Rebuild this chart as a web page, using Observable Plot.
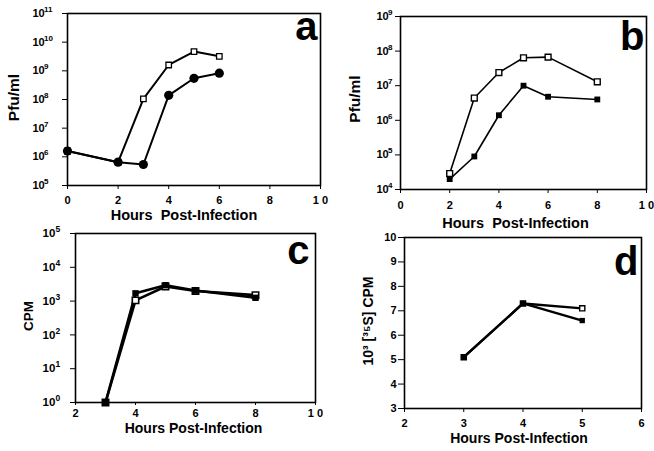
<!DOCTYPE html>
<html><head><meta charset="utf-8">
<script src="https://cdn.jsdelivr.net/npm/d3@7"></script>
<script src="https://cdn.jsdelivr.net/npm/@observablehq/plot@0.6"></script>
<style>
html,body{margin:0;padding:0;background:#fff;}
#root{position:relative;width:654px;height:451px;overflow:hidden;background:#fff;}
.panel{position:absolute;}
</style></head><body><div id="root"></div>
<script>
// ---------- Data ----------
// Panel a
const hoursA = [0, 2, 3, 4, 5, 6];
const aOpen = [1.6e6, 0.65e6, 1.05e8, 1.6e9, 4.7e9, 3.2e9];
const aFilled = [1.6e6, 0.65e6, 0.54e6, 1.4e8, 5.5e8, 8.3e8];
const aXTicks = [0, 2, 4, 6, 8, 10];
const aExp = [5, 6, 7, 8, 9, 10, 11];
// Panel b
const hoursB = [2, 3, 4, 5, 6, 8];
const bOpen = [2.9e4, 4.4e6, 2.4e7, 6.4e7, 6.7e7, 1.3e7];
const bFilled = [2.0e4, 0.9e5, 1.4e6, 1.0e7, 4.8e6, 4.0e6];
const bXTicks = [0, 2, 4, 6, 8, 10];
const bExp = [4, 5, 6, 7, 8, 9];
// Panel c
const hoursC = [3, 4, 5, 6, 8];
const cOpen = [1, 1.05e3, 2.7e3, 2.0e3, 1.5e3];
const cFilled = [1, 1.7e3, 2.95e3, 2.05e3, 1.25e3];
const cXTicks = [2, 4, 6, 8, 10];
const cExp = [0, 1, 2, 3, 4, 5];
// Panel d
const hoursD = [3, 4, 5];
const dOpen = [5.1, 7.3, 7.1];
const dFilled = [5.1, 7.3, 6.6];
const dXTicks = [2, 3, 4, 5, 6];
const dYTicks = [3, 4, 5, 6, 7, 8, 9, 10];

const xTitle1 = "Hours  Post-Infection";
const xTitle2 = "Hours Post-Infection";
const yTitlePfu = "Pfu/ml";
const yTitleCPM = "CPM";
const yTitleD = "10³ [³⁵S] CPM";

// ---------- Helpers ----------
const FONT = '"Liberation Sans", Arial, Helvetica, sans-serif';
const series = (xs, ys) => xs.map((x, i) => ({x, y: ys[i]}));
const fmtX = d => d === 10 ? "1 0" : String(d);
const fmtInt = d => String(d);
const baseStyle = {fontFamily: FONT, fontWeight: "bold", fontSize: "10.5px", overflow: "visible", background: "transparent", maxWidth: "none"};

function supTicks(exps, dx10, dxExp, fs, fsExp, raise) {
  return [
    Plot.text(exps, {y: e => 10 ** e, frameAnchor: "left", dx: dx10, text: () => "10", textAnchor: "start", fontSize: fs}),
    Plot.text(exps, {y: e => 10 ** e, frameAnchor: "left", dx: dxExp, dy: -raise, text: e => String(e), textAnchor: "start", fontSize: fsExp})
  ];
}

function place(node, left, top) {
  const div = document.createElement("div");
  div.className = "panel";
  div.style.left = left + "px";
  div.style.top = top + "px";
  div.appendChild(node);
  document.getElementById("root").appendChild(div);
}

// ---------- Panel a ----------
place(Plot.plot({
  width: 330, height: 230,
  marginLeft: 67, marginTop: 13, marginRight: 10, marginBottom: 45,
  style: baseStyle,
  x: {domain: [0, 10], label: null},
  y: {type: "log", domain: [1e5, 1e11], label: null},
  marks: [
    Plot.frame({stroke: "black", strokeWidth: 1.6}),
    Plot.axisX({ticks: aXTicks, tickFormat: fmtX, tickSize: 4, tickPadding: 7, label: null, fontSize: 11}),
    Plot.axisY({ticks: aExp.map(e => 10 ** e), tickFormat: () => "", tickSize: 5, label: null}),
    ...supTicks(aExp, -35, -23.5, 11, 8, 4),
    Plot.line(series(hoursA, aOpen), {x: "x", y: "y", stroke: "black", strokeWidth: 2}),
    Plot.line(series(hoursA, aFilled), {x: "x", y: "y", stroke: "black", strokeWidth: 2}),
    Plot.dot(series(hoursA, aOpen), {x: "x", y: "y", symbol: "square", r: 3.1, fill: "white", stroke: "black", strokeWidth: 1.3}),
    Plot.dot(series(hoursA, aFilled), {x: "x", y: "y", r: 4.6, fill: "black", stroke: "none"}),
    Plot.text([xTitle1], {frameAnchor: "bottom", dx: -10, dy: 34, fontSize: 14.5}),
    Plot.text([yTitlePfu], {frameAnchor: "left", textAnchor: "middle", dx: -53, dy: -2, rotate: -90, fontSize: 15.5}),
    Plot.text(["a"], {frameAnchor: "top-right", dx: -3, dy: 26, textAnchor: "end", lineAnchor: "bottom", fontSize: 40})
  ]
}), 0, 0);

// ---------- Panel b ----------
place(Plot.plot({
  width: 324, height: 230,
  marginLeft: 70, marginTop: 16, marginRight: 8, marginBottom: 41,
  style: baseStyle,
  x: {domain: [0, 10], label: null},
  y: {type: "log", domain: [1e4, 1e9], label: null},
  marks: [
    Plot.frame({stroke: "black", strokeWidth: 1.6}),
    Plot.axisX({ticks: bXTicks, tickFormat: fmtX, tickSize: 4, tickPadding: 8, label: null, fontSize: 11}),
    Plot.axisY({ticks: bExp.map(e => 10 ** e), tickFormat: () => "", tickSize: 5, label: null}),
    ...supTicks(bExp, -24, -12.5, 11, 8, 4),
    Plot.line(series(hoursB, bOpen), {x: "x", y: "y", stroke: "black", strokeWidth: 1.6}),
    Plot.line(series(hoursB, bFilled), {x: "x", y: "y", stroke: "black", strokeWidth: 1.6}),
    Plot.dot(series(hoursB, bOpen), {x: "x", y: "y", symbol: "square", r: 3.3, fill: "white", stroke: "black", strokeWidth: 1.4}),
    Plot.dot(series(hoursB, bFilled), {x: "x", y: "y", symbol: "square", r: 3.3, fill: "black", stroke: "none"}),
    Plot.text([xTitle1], {frameAnchor: "bottom", dx: -8, dy: 38, fontSize: 14.5}),
    Plot.text([yTitlePfu], {frameAnchor: "left", textAnchor: "middle", dx: -45, dy: -4, rotate: -90, fontSize: 15.5}),
    Plot.text(["b"], {frameAnchor: "top-right", dx: -2, dy: 33, textAnchor: "end", lineAnchor: "bottom", fontSize: 40})
  ]
}), 330, 0);

// ---------- Panel c ----------
place(Plot.plot({
  width: 330, height: 221,
  marginLeft: 75, marginTop: 3, marginRight: 15, marginBottom: 49,
  style: baseStyle,
  x: {domain: [2, 10], label: null},
  y: {type: "log", domain: [1, 1e5], label: null},
  marks: [
    Plot.frame({stroke: "black", strokeWidth: 1.6}),
    Plot.axisX({ticks: cXTicks, tickFormat: fmtX, tickSize: 3, tickPadding: 4, label: null, fontSize: 11}),
    Plot.axisY({ticks: cExp.map(e => 10 ** e), tickFormat: () => "", tickSize: 5, label: null}),
    ...supTicks(cExp, -33, -20, 11.5, 8.5, 4),
    Plot.line(series(hoursC, cOpen), {x: "x", y: "y", stroke: "black", strokeWidth: 2.6}),
    Plot.line(series(hoursC, cFilled), {x: "x", y: "y", stroke: "black", strokeWidth: 2.6}),
    Plot.dot(series(hoursC, cOpen), {x: "x", y: "y", symbol: "square", r: 3.6, fill: "white", stroke: "black", strokeWidth: 1.6}),
    Plot.dot(series(hoursC, cFilled), {x: "x", y: "y", symbol: "square", r: 3.6, fill: "black", stroke: "none"}),
    Plot.text([xTitle2], {frameAnchor: "bottom", dx: -2, dy: 30, fontSize: 14}),
    Plot.text([yTitleCPM], {frameAnchor: "left", textAnchor: "middle", dx: -47, dy: -2, rotate: -90, fontSize: 13.5}),
    Plot.text(["c"], {frameAnchor: "top-right", dx: -6, dy: 30, textAnchor: "end", lineAnchor: "bottom", fontSize: 40})
  ]
}), 0, 230);

// ---------- Panel d ----------
place(Plot.plot({
  width: 324, height: 221,
  marginLeft: 74, marginTop: 7, marginRight: 13, marginBottom: 43,
  style: baseStyle,
  x: {domain: [2, 6], label: null},
  y: {domain: [3, 10], label: null},
  marks: [
    Plot.frame({stroke: "black", strokeWidth: 1.6}),
    Plot.axisX({ticks: dXTicks, tickFormat: fmtInt, tickSize: 4, tickPadding: 7, label: null, fontSize: 11}),
    Plot.axisY({ticks: dYTicks, tickFormat: fmtInt, tickSize: 6, tickPadding: 2, label: null, fontSize: 11}),
    Plot.line(series(hoursD, dOpen), {x: "x", y: "y", stroke: "black", strokeWidth: 2.4}),
    Plot.line(series(hoursD, dFilled), {x: "x", y: "y", stroke: "black", strokeWidth: 2.4}),
    Plot.dot(series(hoursD, dOpen), {x: "x", y: "y", symbol: "square", r: 2.9, fill: "white", stroke: "black", strokeWidth: 1.4}),
    Plot.dot(series(hoursD, dFilled), {x: "x", y: "y", symbol: "square", r: 3.0, fill: "black", stroke: "none"}),
    Plot.text([xTitle2], {frameAnchor: "bottom", dx: -4, dy: 34, fontSize: 14}),
    Plot.text([yTitleD], {frameAnchor: "left", textAnchor: "middle", dx: -36, dy: -2, rotate: -90, fontSize: 14}),
    Plot.text(["d"], {frameAnchor: "top-right", dx: -3, dy: 37, textAnchor: "end", lineAnchor: "bottom", fontSize: 40})
  ]
}), 330, 230);
</script>
</body></html>
